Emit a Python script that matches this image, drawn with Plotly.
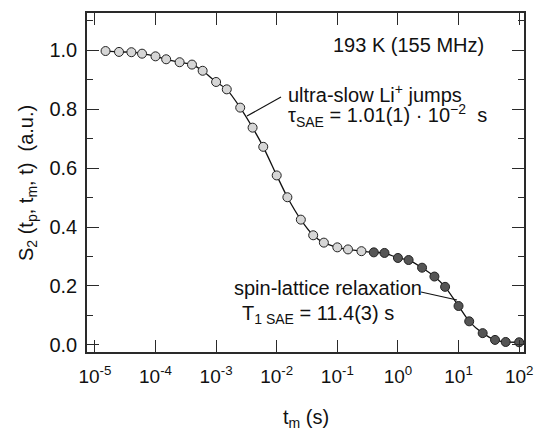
import plotly.graph_objects as go

# ---- data ----
t_fast = [1.5e-5, 2.5e-5, 4e-5, 6e-5, 1e-4, 1.5e-4, 2.5e-4, 4e-4, 6e-4, 1e-3, 1.5e-3,
          2.5e-3, 4e-3, 6e-3, 1e-2, 1.5e-2, 2.5e-2, 4e-2, 6e-2, 1e-1, 1.5e-1, 2.5e-1]
s_fast = [0.997, 0.994, 0.993, 0.988, 0.979, 0.969, 0.959, 0.951, 0.930, 0.892, 0.867,
          0.805, 0.737, 0.672, 0.575, 0.501, 0.425, 0.372, 0.347, 0.331, 0.324, 0.318]
t_slow = [0.4, 0.6, 1, 1.5, 2.5, 4, 6, 10, 15, 25, 40, 60, 100]
s_slow = [0.314, 0.312, 0.295, 0.288, 0.262, 0.232, 0.197, 0.132, 0.080, 0.040, 0.017, 0.010, 0.009]

x_tickvals = [1e-5, 1e-4, 1e-3, 1e-2, 1e-1, 1e0, 1e1, 1e2]
x_ticktext = ["10<sup>-5</sup>", "10<sup>-4</sup>", "10<sup>-3</sup>", "10<sup>-2</sup>",
              "10<sup>-1</sup>", "10<sup>0</sup>", "10<sup>1</sup>", "10<sup>2</sup>"]
y_tickvals = [0.0, 0.2, 0.4, 0.6, 0.8, 1.0]
y_ticktext = ["0.0", "0.2", "0.4", "0.6", "0.8", "1.0"]

FONT = "Liberation Sans, Arial, Helvetica, sans-serif"
INK = "#2a2a2a"
TXT = "#111111"

W, H = 536, 430
L, R, T, B = 87, 524, 13, 352  # plot area in pixels
def px(x):
    return (x - L) / (R - L)
def py(y):
    return (B - y) / (B - T)

fig = go.Figure()
fig.add_trace(go.Scatter(x=t_fast + t_slow, y=s_fast + s_slow, mode="lines",
                         line=dict(color="#111111", width=1.3, shape="spline", smoothing=0.6),
                         hoverinfo="skip", showlegend=False))
fig.add_trace(go.Scatter(x=t_fast, y=s_fast, mode="markers",
                         marker=dict(size=9, color="#d6d6d6", line=dict(color="#222222", width=1)),
                         showlegend=False))
fig.add_trace(go.Scatter(x=t_slow, y=s_slow, mode="markers",
                         marker=dict(size=9, color="#555555", line=dict(color="#222222", width=1)),
                         showlegend=False))

axis_common = dict(showline=True, linecolor=INK, linewidth=1.5, mirror="allticks",
                   ticks="inside", tickcolor=INK, tickwidth=1.3, showgrid=False, zeroline=False,
                   automargin=False)

fig.update_xaxes(type="log", range=[-5.13, 2.08], tickvals=x_tickvals, ticktext=x_ticktext,
                 ticklen=12, ticklabelstandoff=6,
                 tickfont=dict(family=FONT, size=19, color=TXT), **axis_common)
fig.update_yaxes(range=[-0.024, 1.126], tickvals=y_tickvals, ticktext=y_ticktext,
                 ticklen=12, ticklabelstandoff=4,
                 tickfont=dict(family=FONT, size=20, color=TXT),
                 minor=dict(dtick=0.1, ticks="inside", ticklen=6, tickcolor=INK, tickwidth=1.3, showgrid=False),
                 **axis_common)

ann_font = dict(family=FONT, size=20, color=TXT)
annotations = [
    dict(x=px(408), y=py(45), text="193 K (155 MHz)", xanchor="center", yanchor="middle"),
    dict(x=px(286), y=py(93), text="ultra-slow Li<sup>+</sup> jumps", xanchor="left", yanchor="middle"),
    dict(x=px(286), y=py(116), text="τ<sub>SAE</sub> = 1.01(1) · 10<sup>−2</sup>  s", xanchor="left", yanchor="middle"),
    dict(x=px(232), y=py(288), text="spin-lattice relaxation", xanchor="left", yanchor="middle"),
    dict(x=px(240), y=py(314), text="T<sub>1 SAE</sub> = 11.4(3) s", xanchor="left", yanchor="middle"),
    dict(x=px(306), y=py(418), text="t<sub>m</sub> (s)", xanchor="center", yanchor="middle"),
    dict(x=px(27), y=py(183), text="S<sub>2</sub> (t<sub>p</sub>, t<sub>m</sub>, t)  (a.u.)",
         xanchor="center", yanchor="middle", textangle=-90),
]
for a in annotations:
    a.update(xref="paper", yref="paper", showarrow=False, font=ann_font, align="left")

shapes = [
    dict(type="line", xref="paper", yref="paper", x0=px(281), y0=py(97), x1=px(247), y1=py(116),
         line=dict(color="#111111", width=1.2)),
    dict(type="line", xref="paper", yref="paper", x0=px(421), y0=py(292), x1=px(457), y1=py(300),
         line=dict(color="#111111", width=1.2)),
]

fig.update_layout(width=W, height=H,
                  margin=dict(l=L, r=W - R, t=T, b=H - B),
                  paper_bgcolor="white", plot_bgcolor="white",
                  annotations=annotations, shapes=shapes,
                  font=dict(family=FONT, color=TXT))

fig.write_html("out.html", config={"displayModeBar": False},
               post_script="document.body.style.margin='0';document.body.style.overflow='hidden';")
